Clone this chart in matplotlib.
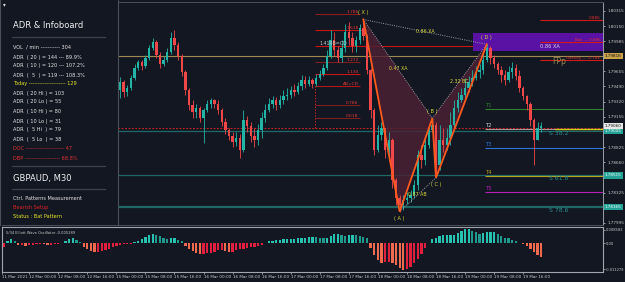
import numpy as np
import matplotlib
matplotlib.use("Agg")
import matplotlib.pyplot as plt
from matplotlib.patches import Polygon, Rectangle
import matplotlib.transforms as mtrans

plt.rcParams['font.family'] = ['DejaVu Sans']

W, H = 625, 282
BG = "#131722"
BULL = "#22b5a5"
BEAR = "#f04848"

# ---------------- data ----------------
PIP = 0.0001
BASE = 1.78
first_open = 145
candle_bar0 = 65
candle_step = 2
close_pips = [154,143,147,158,169,176,171,180,191,198,
              183,173,178,187,202,194,182,165,145,129,
              121,125,114,123,130,134,130,123,110,101,
              95,88,93,79,112,106,95,90,101,114,
              123,130,134,129,134,138,140,145,143,149,
              156,152,156,152,158,163,169,182,200,189,
              180,191,208,202,193,200,213,204,167,123,
              79,96,103,79,90,47,27,19,25,27,
              30,41,74,68,85,101,107,63,90,85,
              93,107,125,134,140,147,154,158,165,167,
              178,191,180,173,167,161,156,165,169,160,
              147,138,130,112,90,103,106]
high_pips = [159,156,151,161,173,178,178,183,194,202,
             200,187,182,191,208,211,198,184,167,147,
             134,130,128,125,134,136,135,134,125,114,
             103,99,99,97,123,117,110,103,108,121,
             130,136,138,137,140,145,147,149,152,154,
             161,160,160,158,163,167,173,189,211,208,
             193,200,217,219,208,204,217,222,206,169,
             125,107,110,103,99,93,49,30,30,33,
             36,47,79,85,96,107,114,110,107,103,
             103,121,134,143,147,158,160,167,171,173,
             187,195,193,183,176,171,167,171,176,173,
             167,149,140,132,114,110,110]
low_pips = [136,137,138,145,156,167,167,169,178,189,
            180,169,171,176,184,189,178,160,140,123,
            114,114,110,87,121,125,125,119,106,97,
            90,83,84,71,77,99,88,83,85,93,
            110,121,125,123,125,130,134,136,138,141,
            145,147,149,147,149,156,160,167,180,182,
            176,176,187,194,187,187,195,200,163,114,
            74,77,90,71,68,38,19,12,14,20,
            23,27,36,60,63,82,99,49,58,77,
            79,85,101,121,132,136,143,149,156,158,
            163,176,173,169,163,154,151,154,158,156,
            143,134,123,106,63,96,99]

osc_bar0 = 1
osc_step = 2
osc_vals = [-1.5, 1.1, 2.0, 1.3, -0.65, -0.65, -0.87, -0.65, -0.65, -0.43,
            -0.2, -0.35, -0.65, -0.65, -0.43, -0.2, 0.2, 1.1, 2.0, 2.4,
            1.7, 0.65, -1.5, -2.4, -3.3, -3.7, -3.7, -3.3, -2.8, -2.4,
            -1.7, -1.1, -0.65, -0.35, -0.2, -0.1, 0.65, 1.3, 2.0, 2.8,
            3.7, 4.1, 3.9, 3.3, 2.4, 2.0, 2.4, 2.4, 1.7, 1.1,
            -1.1, -2.4, -3.3, -4.1, -4.6, -4.6, -4.3, -4.1, -3.5, -2.8,
            -2.8, -3.3, -3.7, -3.5, -2.8, -2.4, -2.2, -2.0, -1.7, -1.5,
            -1.1, -0.65, 0.2, 0.87, 1.3, 1.5, 1.7, 2.0, 2.0, 2.0,
            2.0, 2.2, 2.4, 2.6, 2.8, 3.0, 2.8, 2.6, 2.4, 2.4,
            3.3, 4.1, 4.3, 3.7, 3.3, 3.7, 3.9, 3.7, 3.3, 3.0,
            2.4, -2.0, -5.0, -7.2, -8.5, -8.2, -8.0, -8.5, -9.3, -10.6,
            -11.5, -10.9, -10.0, -8.5, -6.9, -4.6, -2.0, 0.2, 2.0, 2.6,
            3.3, 3.7, 3.7, 3.7, 3.7, 4.6, 5.4, 6.1, 6.2, 5.6,
            4.8, 4.3, 4.6, 4.8, 5.2, 5.2, 4.3, 3.3, 2.6, 2.2,
            1.7, 1.1, 0.43, -0.43, -1.3, -2.6, -3.7, -5.0, -5.9]
osc_tick_vals = [5.86, 0.0, -11.07]
osc_tick_labels = ['0.008583', '0.00', '-0.011279']

date_bars = [0, 15, 31, 47, 63, 79, 95, 111, 127, 143, 159, 175, 191, 207, 223, 239, 255, 271, 287]
date_labels = ['11 Mar 2021', '12 Mar 00:00', '12 Mar 08:00', '12 Mar 16:00', '15 Mar 00:00',
               '15 Mar 08:00', '15 Mar 16:00', '16 Mar 00:00', '16 Mar 08:00', '16 Mar 16:00',
               '17 Mar 00:00', '17 Mar 08:00', '17 Mar 16:00', '18 Mar 00:00', '18 Mar 08:00',
               '18 Mar 16:00', '19 Mar 00:00', '19 Mar 08:00', '19 Mar 16:00']

price_ticks = [1.80315, 1.80150, 1.79985, 1.79655, 1.79490, 1.79320, 1.79155,
               1.78825, 1.78660, 1.78325, 1.77995]

pat_names = ['X', 'A', 'B', 'C', 'D']
pat_bar = [199, 219, 237, 239, 267]
pat_price = [1.80222, 1.78120, 1.79140, 1.78490, 1.79950]
ratio_pairs = [(0, 2), (1, 3), (2, 4), (0, 4)]
ratio_labels = ['0.47 XA', '0.87 AB', '2.32 BC', '0.86 XA']

fpp_price = 1.79818
s_names = ['S 38.2', 'S 61.8', 'S 78.6']
s_prices = [1.79005, 1.78515, 1.78165]
prz_dash_price = 1.79035

t_names = ['T1', 'T2', 'T3', 'T4', 'T5']
t_prices = [1.79242, 1.79024, 1.78816, 1.78510, 1.78334]
t_colors = ['#2f7d2f', '#a89898', '#2f72d6', '#b8a41e', '#b620b6']
t_start = 266

fib_names = ['1.786', '1.618', '1.414B=CD', '1.272', '1.130', 'AB=CD', '0.786', '0.618']
fib_prices = [1.80282, 1.80107, 1.79932, 1.79757, 1.79625, 1.79494, 1.79286, 1.79144]
fib_colors = ['#8a1c1c', '#c81414', '#c81414', '#7a2020', '#c81414', '#b01818', '#7a2020', '#7a2020']
fib_start = 172.4
fib_end = [197, 202, 267, 197, 197, 197, 197, 197]

box_bars = (259.4, 331)
box_prices = (1.79880, 1.80071)
right_start = 296.3
right_names = ['0.886', 'Bat --- 0.886', 'Gartley --- 0.786']
right_prices = [1.80216, 1.79975, 1.79779]

info_rows = [
    ('VOL  / min ----------- 304', '#e6e6e6'),
    ('ADR  ( 20 ) = 144 --- 89.9%', '#e6e6e6'),
    ('ADR  ( 10 ) = 120 --- 107.2%', '#e6e6e6'),
    ('ADR  (  5  ) = 119 --- 108.3%', '#e6e6e6'),
    ('Today --------------------- 129', '#e6e626'),
    ('ADR  ( 20 Hi ) = 103', '#e6e6e6'),
    ('ADR  ( 20 Lo ) = 55', '#e6e6e6'),
    ('ADR  ( 10 Hi ) = 80', '#e6e6e6'),
    ('ADR  ( 10 Lo ) = 31', '#e6e6e6'),
    ('ADR  (  5 Hi  ) = 79', '#e6e6e6'),
    ('ADR  (  5 Lo  ) = 38', '#e6e6e6'),
    ('DOC ---------------------- 47', '#e03030'),
    ('DBP -------------------- 68.8%', '#e03030'),
]
info_row_y = [47, 57, 66, 75, 84, 93, 102, 112, 121, 130, 139, 149, 158]

# ---------------- figure ----------------
fig = plt.figure(figsize=(W / 100, H / 100), dpi=100, facecolor=BG)


def fx(px):
    return px / W


def fy(py):
    return 1 - py / H


ax = fig.add_axes([fx(2), fy(225), 601 / W, 223 / H], facecolor=BG)
axo = fig.add_axes([fx(2), fy(272), 601 / W, 45 / H], facecolor=BG)
axp = fig.add_axes([0, fy(225), 118 / W, 225 / H], facecolor=BG, zorder=10)

XL = (0, 331)
ax.set_xlim(*XL)
ax.set_ylim(1.77973, 1.80413)

# level lines
ax.axhline(fpp_price, color='#a08a52', lw=0.8, zorder=1)
for p, lw in zip(s_prices, [0.9, 0.9, 1.6]):
    ax.axhline(p, color='#1f6866', lw=lw, zorder=1)
ax.axhline(prz_dash_price, color='#c42020', lw=0.7, ls=(0, (2, 1.5)), zorder=1)

# fib lines (left)
for name, p, c, xe in zip(fib_names, fib_prices, fib_colors, fib_end):
    ax.hlines(p, fib_start, xe, color=c, lw=0.8, zorder=1)
    if name.startswith('1.414'):
        ax.text(fib_start + 2.5, p, name, color='#c8c8c8', fontsize=3.4, va='bottom', ha='left', zorder=6)
    else:
        ax.text(fib_start + 24, p, name, color='#e03838', fontsize=3.2, va='bottom', ha='right', zorder=6)
ax.vlines(fib_start, prz_dash_price, fib_prices[5], color='#c42020', lw=0.7, ls=(0, (1.5, 1.5)), zorder=1)

# right purple box and lines
ax.add_patch(Rectangle((box_bars[0], box_prices[0]), box_bars[1] - box_bars[0],
                       box_prices[1] - box_prices[0], facecolor='#5a12a4', edgecolor='none', zorder=1))
for name, p in zip(right_names, right_prices):
    ax.hlines(p, right_start, XL[1], color='#d01818', lw=0.8, zorder=2)
    ax.text(XL[1] - 1.5, p, name, color='#e03030', fontsize=3.0, va='bottom', ha='right', zorder=6)
ax.text(right_start, 1.79930, '0.86 XA', color='#d8d8e8', fontsize=3.6, va='center', ha='left', zorder=6)

# targets
for name, p, c in zip(t_names, t_prices, t_colors):
    ax.hlines(p, t_start, XL[1], color=c, lw=0.8, zorder=2)
    ax.text(t_start + 0.5, p + 0.00008, name, color=c if name != 'T2' else '#d0d0d0',
            fontsize=3.8, va='bottom', ha='left', zorder=6)
ax.hlines(t_prices[1], 304.5, XL[1], color='#cfcf20', lw=1.0, zorder=3)

# S labels and FPp
for name, p in zip(s_names, s_prices):
    ax.text(301.5, p - 0.00005, name, color='#2a8e8a', fontsize=4.4, va='top', ha='left', zorder=6)
ax.text(303, fpp_price - 0.00008, 'FPp', color='#9a8a4e', fontsize=5.5, va='top', ha='left', zorder=6)

# candles
n = len(close_pips)
cb = candle_bar0 + candle_step * np.arange(n)
c = BASE + np.array(close_pips) * PIP
o = np.concatenate([[BASE + first_open * PIP], c[:-1]])
h = BASE + np.array(high_pips) * PIP
l = BASE + np.array(low_pips) * PIP
hi = np.maximum.reduce([h, o, c])
lo = np.minimum.reduce([l, o, c])
col = np.where(c >= o, BULL, BEAR)
ax.vlines(cb, lo, hi, colors=col, lw=0.6, zorder=4)
body = np.where(np.abs(c - o) < 0.00003, 0.00003, c - o)
ax.bar(cb, body, bottom=o, width=1.3, color=col, lw=0, zorder=4)

# harmonic pattern
P = list(zip(pat_bar, pat_price))
ax.add_patch(Polygon([P[0], P[1], P[2]], closed=True, facecolor='#4d2034', edgecolor='none', alpha=0.8, zorder=2))
ax.add_patch(Polygon([P[2], P[3], P[4]], closed=True, facecolor='#4d2034', edgecolor='none', alpha=0.8, zorder=2))
for (i, j), lab in zip(ratio_pairs, ratio_labels):
    ax.plot([pat_bar[i], pat_bar[j]], [pat_price[i], pat_price[j]], color='#9a9aa2', lw=0.7, ls=(0, (1, 1.3)), zorder=5)
    ax.text((pat_bar[i] + pat_bar[j]) / 2, (pat_price[i] + pat_price[j]) / 2, lab, color='#d8d83a',
            fontsize=3.4, ha='center', va='center', zorder=7)
ax.plot(pat_bar, pat_price, color='#ff5a1e', lw=1.3, zorder=6, solid_joinstyle='miter')
for k, (name, b, p) in enumerate(zip(pat_names, pat_bar, pat_price)):
    up = name in ('X', 'B', 'D')
    ax.annotate('( %s )' % name, (b, p), xytext=(0, 3 if up else -3), textcoords='offset points',
                color='#d8d83a', fontsize=3.6, ha='center', va='bottom' if up else 'top', zorder=7)

# axes styling main
for s in ax.spines.values():
    s.set_color('#4a4f5a')
    s.set_linewidth(0.7)
ax.spines['right'].set_color('#9aa0a8')
ax.set_xticks([])
ax.yaxis.tick_right()
ax.set_yticks(price_ticks)
ax.set_yticklabels(['%.5f' % t for t in price_ticks])
ax.tick_params(axis='y', labelsize=3.0, colors='#c8c8c8', length=1.5, width=0.5, pad=1.5)

# highlighted price labels
tr = mtrans.blended_transform_factory(ax.transAxes, ax.transData)
hl = [(fpp_price, '#c9a24a', '#101010'), (s_prices[0], '#23a395', '#ffffff'),
      (c[-1], '#e8e8e8', '#101010'),
      (s_prices[1], '#23a395', '#ffffff'), (s_prices[2], '#23a395', '#ffffff')]
for p, bgc, fgc in hl:
    ax.text(1.003, p, '%.5f' % p, transform=tr, fontsize=3.0, color=fgc, va='center', ha='left',
            bbox=dict(boxstyle='square,pad=0.25', facecolor=bgc, edgecolor='none'), zorder=8, clip_on=False)

# ---------------- oscillator ----------------
ov = np.array(osc_vals)
ob = osc_bar0 + osc_step * np.arange(len(ov))
prev = np.concatenate([[ov[0]], ov[:-1]])
ocol = np.where(ov >= 0, np.where(ov >= prev, '#28c2b0', '#1f9a8c'),
                np.where(ov < prev, '#f06a50', '#e0203e'))
axo.bar(ob, ov, width=1.25, color=ocol, lw=0, zorder=2)
axo.set_xlim(*XL)
axo.set_ylim(-12.37, 7.16)
for s in axo.spines.values():
    s.set_color('#a0a6ae')
    s.set_linewidth(0.8)
axo.yaxis.tick_right()
axo.set_yticks(osc_tick_vals)
axo.set_yticklabels(osc_tick_labels)
axo.tick_params(axis='y', labelsize=2.6, colors='#c8c8c8', length=1.2, width=0.5, pad=1.0)
axo.set_xticks(date_bars)
axo.set_xticklabels(date_labels)
for t in axo.get_xticklabels():
    t.set_ha('left')
axo.tick_params(axis='x', labelsize=3.0, colors='#c8c8c8', length=1.5, width=0.5, pad=1)
axo.text(0.006, 0.9, '5/34 Elliott Wave Oscillator -0.005289', transform=axo.transAxes,
         fontsize=2.6, color='#c8c8c8', va='top', ha='left')

# ---------------- info panel ----------------
axp.set_xlim(0, 118)
axp.set_ylim(225, 0)
axp.set_xticks([])
axp.set_yticks([])
for k, s in axp.spines.items():
    s.set_color('#4a4f5a')
    s.set_linewidth(0.8)
axp.spines['top'].set_visible(False)
axp.spines['bottom'].set_visible(False)
axp.text(3, 5, '\u25be', color='#e0e0e0', fontsize=4, va='center', ha='left')
axp.text(13, 26, 'ADR & Infoboard', color='#f0f0f0', fontsize=6.0, va='center', ha='left')
for yy in (37, 166, 189):
    axp.plot([12, 105], [yy, yy], color='#3c414c', lw=0.9)
for (txt, cc), yy in zip(info_rows, info_row_y):
    axp.text(13, yy, txt, color=cc, fontsize=3.6, va='center', ha='left')
axp.text(13, 178, 'GBPAUD, M30', color='#f0f0f0', fontsize=6.0, va='center', ha='left')
axp.text(13, 198, 'Ctrl. Patterns Measurement', color='#e6e6e6', fontsize=3.6, va='center', ha='left')
axp.text(13, 207, 'Bearish Setup', color='#e02020', fontsize=3.6, va='center', ha='left')
axp.text(13, 216, 'Status : Bat Pattern', color='#e6e626', fontsize=3.6, va='center', ha='left')

fig.savefig('out.png', dpi=100, facecolor=BG)
